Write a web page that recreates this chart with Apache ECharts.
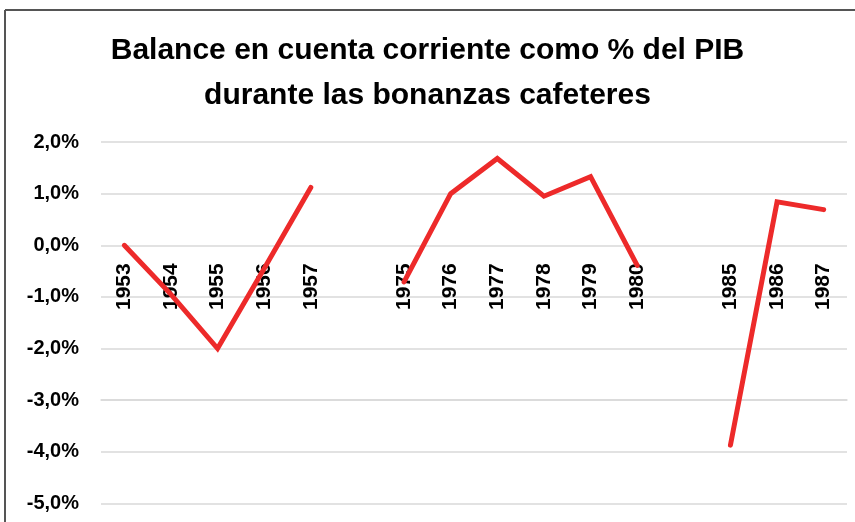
<!DOCTYPE html>
<html>
<head>
<meta charset="utf-8">
<script src="https://cdn.jsdelivr.net/npm/echarts@6/dist/echarts.min.js"></script>
<style>
  html, body { margin: 0; padding: 0; background: #fff; }
  #chart { width: 855px; height: 522px; }
</style>
</head>
<body>
<div id="chart"></div>
<script>
// years, with a blank slot between each bonanza
var years = ['1953', '1954', '1955', '1956', '1957', '',
             '1975', '1976', '1977', '1978', '1979', '1980', '',
             '1985', '1986', '1987'];
// current account balance, % of GDP
var balance = [0.0, -0.95, -2.0, -0.45, 1.12, null,
               -0.71, 1.0, 1.68, 0.95, 1.33, -0.39, null,
               -3.87, 0.84, 0.69];

var font = '"Liberation Sans Narrow", "Liberation Sans", sans-serif';

var dom = document.getElementById('chart');
var myChart = echarts.init(dom);

var option = {
    animation: false,
    title: {
        text: 'Balance en cuenta corriente como % del PIB\ndurante las bonanzas cafeteres',
        left: 'center',
        top: 23,
        textStyle: {
            fontFamily: font,
            fontWeight: 'bold',
            fontSize: 30,
            lineHeight: 45,
            color: '#000'
        }
    },
    graphic: [
        { type: 'line', shape: { x1: 5, y1: 10, x2: 855, y2: 10 }, style: { stroke: '#555', lineWidth: 2 } },
        { type: 'line', shape: { x1: 5, y1: 10, x2: 5, y2: 522 }, style: { stroke: '#555', lineWidth: 2 } }
    ],
    grid: { left: 101, right: 8, top: 142, bottom: 18.5, containLabel: false, outerBoundsMode: 'none' },
    xAxis: {
        type: 'category',
        data: years,
        boundaryGap: true,
        axisLine: { onZero: true, lineStyle: { color: '#d9d9d9', width: 1.5 } },
        axisTick: { show: false },
        axisLabel: {
            rotate: 90,
            margin: 18,
            interval: 0,
            fontFamily: font,
            fontWeight: 'bold',
            fontSize: 21,
            color: '#000'
        }
    },
    yAxis: {
        type: 'value',
        min: -5,
        max: 2,
        interval: 1,
        axisLine: { show: false },
        axisTick: { show: false },
        splitLine: { lineStyle: { color: '#d9d9d9', width: 1.5 } },
        axisLabel: {
            margin: 22,
            fontFamily: font,
            fontWeight: 'bold',
            fontSize: 20,
            color: '#000',
            formatter: function (v) {
                return v.toFixed(1).replace('.', ',') + '%';
            }
        }
    },
    series: [
        {
            type: 'line',
            data: balance,
            connectNulls: false,
            showSymbol: false,
            symbol: 'none',
            z: 5,
            lineStyle: { color: '#ed2a2a', width: 5, cap: 'round', join: 'miter' }
        }
    ]
};

myChart.setOption(option);

// pull the year labels up to the zero line
var zeroY = myChart.convertToPixel({ yAxisIndex: 0 }, 0);
var bottomY = myChart.convertToPixel({ yAxisIndex: 0 }, -5);
myChart.setOption({ xAxis: { offset: -(bottomY - zeroY) } });
</script>
</body>
</html>
